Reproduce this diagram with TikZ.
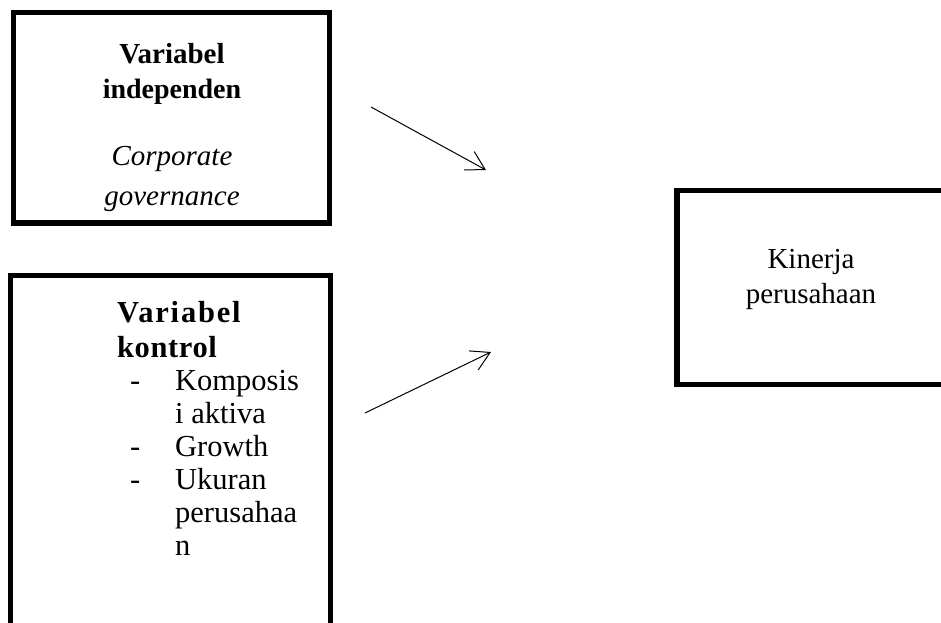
\documentclass[tikz,border=0pt]{standalone}
\usepackage{fontspec}
\setmainfont{Liberation Serif}
\usetikzlibrary{arrows.meta}
\begin{document}
\begin{tikzpicture}[x=1pt,y=-1pt,
  box/.style={draw, line width=5.5pt, inner sep=0pt},
  txt/.style={font=\fontsize{29}{33}\selectfont, inner sep=0pt},
  btxt/.style={font=\fontsize{30.5}{33}\selectfont, inner sep=0pt},
  ctxt/.style={txt, anchor=base},
  ltxt/.style={btxt, anchor=base west},
  arr/.style={line width=1pt, -{Straight Barb[angle=60:21pt, line width=1pt]}}]
\useasboundingbox (0,0) rectangle (941,622);
\clip (0,0) rectangle (941,622);
% boxes
\node[box, minimum width=316pt, minimum height=210.5pt] (indep) at (171.5,117.75) {};
\node[box, minimum width=320pt, minimum height=384.5pt] (kontrol) at (170.5,467.75) {};
\node[box, minimum width=303pt, minimum height=194pt] (kinerja) at (828.5,287.5) {};
% top box text
\node[ctxt, font=\fontsize{29}{33}\selectfont\bfseries] (t1) at (172,63) {Variabel};
\node[ctxt, font=\fontsize{28}{33}\selectfont\bfseries] (t2) at (172,98) {independen};
\node[ctxt, font=\fontsize{29}{33}\selectfont\itshape] (t3) at (172,165) {Corporate};
\node[ctxt, font=\fontsize{29}{33}\selectfont\itshape] (t4) at (172,205) {governance};
% bottom box text
\node[ltxt, font=\fontsize{30.5}{33}\selectfont\bfseries\addfontfeatures{LetterSpace=6}] (b1) at (117,322) {Variabel};
\node[ltxt, font=\fontsize{30.5}{33}\selectfont\bfseries\addfontfeatures{LetterSpace=2}] (b2) at (117,357) {kontrol};
\node[ltxt] (d1) at (130,390) {-};
\node[ltxt] (d2) at (130,456) {-};
\node[ltxt] (d3) at (130,489) {-};
\node[ltxt] (b3) at (175,390) {Komposis};
\node[ltxt] (b4) at (175,423) {i aktiva};
\node[ltxt] (b5) at (175,456) {Growth};
\node[ltxt] (b6) at (175,489) {Ukuran};
\node[ltxt] (b7) at (175,522) {perusahaa};
\node[ltxt] (b8) at (175,555) {n};
% right box text
\node[ctxt] (k1) at (811,268) {Kinerja};
\node[ctxt] (k2) at (811,303) {perusahaan};
% arrows
\coordinate (a1s) at (371,107);
\coordinate (a1e) at (486,170);
\coordinate (a2s) at (365,413);
\coordinate (a2e) at (491,352);
\draw[arr] (a1s) -- (a1e);
\draw[arr] (a2s) -- (a2e);
\end{tikzpicture}
\end{document}
